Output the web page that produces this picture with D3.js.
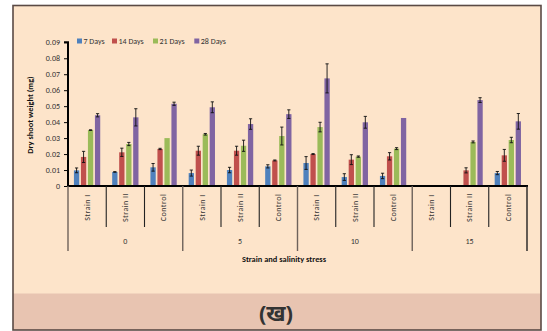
<!DOCTYPE html>
<html><head><meta charset="utf-8">
<script src="https://cdn.jsdelivr.net/npm/d3@7/dist/d3.min.js"></script>
<style>body{margin:0;background:#fff}svg{display:block}text{font-family:Carlito,Lato,"Liberation Sans",sans-serif}</style>
</head><body><svg id="c" width="547" height="331"></svg>
<script>
const groups = ["0","5","10","15"];
const strains = ["Strain I","Strain II","Control"];
const seriesNames = ["7 Days","14 Days","21 Days","28 Days"];
const colors = ["#4F81BD","#C0504D","#9BBB59","#8064A2"];
// values per category (group x strain order)
const d7  = [0.0098,0.0088,0.0117, 0.0081,0.0100,0.0123, 0.0144,0.0056,0.0063, 0,0,0.0081];
const d14 = [0.0182,0.0211,0.0232, 0.0221,0.0221,0.0160, 0.0200,0.0165,0.0186, 0,0.0098,0.0192];
const d21 = [0.0350,0.0263,0.0300, 0.0324,0.0252,0.0313, 0.0369,0.0184,0.0234, 0,0.0276,0.0288];
const d28 = [0.0443,0.0430,0.0515, 0.0493,0.0388,0.0450, 0.0674,0.0399,0.0426, 0,0.0538,0.0405];
const e7  = [0.0015,0.0002,0.0024, 0.0019,0.0017,0.0010, 0.0040,0.0021,0.0017, 0,0,0.0010];
const e14 = [0.0035,0.0026,0.0004, 0.0028,0.0028,0.0003, 0.0003,0.0031,0.0023, 0,0.0016,0.0037];
const e21 = [0.0002,0.0010,0, 0.0005,0.0035,0.0056, 0.0030,0.0004,0.0006, 0,0.0006,0.0017];
const e28 = [0.0010,0.0054,0.0010, 0.0034,0.0033,0.0027, 0.0091,0.0037,0,  0,0.0015,0.0049];
const yTicks = [0,0.01,0.02,0.03,0.04,0.05,0.06,0.07,0.08,0.09];

const vals=[d7,d14,d21,d28], errs=[e7,e14,e21,e28];
const cats=[]; groups.forEach(g=>strains.forEach(s=>cats.push(g+"|"+s)));

const svg=d3.select("#c");
// background and frame
svg.append("rect").attr("x",13).attr("y",5.5).attr("width",528).attr("height",324.5).attr("fill","#FDE4CA");
svg.append("rect").attr("x",13).attr("y",293.5).attr("width",528).attr("height",36.5).attr("fill","#E8C4B1");
svg.append("rect").attr("x",13).attr("y",5.5).attr("width",528).attr("height",324.5).attr("fill","none").attr("stroke","#5a4a45").attr("stroke-width",1.6);
svg.append("text").attr("x",276).attr("y",321).attr("text-anchor","middle").attr("font-size",22).attr("font-weight","bold").attr("fill","#333").style("font-family","'Noto Sans','Noto Sans Devanagari',sans-serif").text("(ख)");

const x0=68,x1=527,yB=186,yT=42.3;
const x=d3.scaleBand().domain(cats).range([x0,x1]).paddingInner(0).paddingOuter(0);
const y=d3.scaleLinear().domain([0,0.09]).range([yB,yT]);
const bw=5.3, step=7;

// bars
const g=svg.append("g");
vals.forEach((arr,si)=>{
  g.selectAll(null).data(cats.map((c,i)=>({c,v:arr[i],e:errs[si][i]})).filter(d=>d.v>0)).join(g2=>{
    const gg=g2.append("g");
    gg.append("rect").attr("x",d=>x(d.c)+x.bandwidth()/2-13.2+si*step).attr("width",bw)
      .attr("y",d=>y(d.v)).attr("height",d=>yB-y(d.v)).attr("fill",colors[si]);
    const ex=d=>x(d.c)+x.bandwidth()/2-13.2+si*step+bw/2;
    gg.filter(d=>d.e>0).append("path").attr("d",d=>{const a=ex(d),t=y(d.v+d.e),b=y(d.v-d.e);return `M${a},${t}V${b}M${a-1.6},${t}H${a+1.6}M${a-1.6},${b}H${a+1.6}`})
      .attr("stroke","#111").attr("stroke-width",0.9).attr("fill","none");
    return gg;
  });
});

// y axis
const ya=svg.append("g").attr("transform",`translate(${x0},0)`).call(d3.axisLeft(y).tickValues(yTicks).tickSize(4).tickFormat(d=>d===0?"0":d3.format(".2f")(d)));
ya.select(".domain").attr("stroke","#000").attr("stroke-width",2).attr("d",`M-4,${yT}H0V${yB}`);
ya.selectAll(".tick line").attr("stroke","#000").attr("stroke-width",1);
ya.selectAll(".tick text").attr("font-size",8).attr("fill","#333").attr("x",-8).style("font-family","Carlito,Lato,sans-serif");

// x axis line
svg.append("line").attr("x1",x0-1).attr("x2",x1+1).attr("y1",yB).attr("y2",yB).attr("stroke","#000").attr("stroke-width",2);
// category separators
cats.forEach((c,i)=>{
  const xx=x(c);
  const grp=i%3===0;
  svg.append("line").attr("x1",xx).attr("x2",xx).attr("y1",yB).attr("y2",grp?251:227).attr("stroke",grp?"#6e625b":"#222").attr("stroke-width",grp?1.4:1.1);
});
svg.append("line").attr("x1",x1).attr("x2",x1).attr("y1",yB).attr("y2",251).attr("stroke","#222").attr("stroke-width",1.4);
// category labels
cats.forEach(c=>{
  const cx=x(c)+x.bandwidth()/2+2.8;
  svg.append("text").attr("transform",`translate(${cx},207.5) rotate(-90)`).attr("text-anchor","middle").attr("font-size",8).attr("letter-spacing",0.5).attr("fill","#333").text(c.split("|")[1]);
});
// group labels
groups.forEach((gname,gi)=>{
  const cx=x(cats[gi*3])+x.bandwidth()*1.5;
  svg.append("text").attr("x",cx).attr("y",244).attr("text-anchor","middle").attr("font-size",8).attr("fill","#333").text(gname);
});
// axis titles
svg.append("text").attr("x",284).attr("y",262).attr("text-anchor","middle").attr("font-size",8.4).attr("font-weight","bold").attr("fill","#111").text("Strain and salinity stress");
svg.append("text").attr("transform","translate(33,115) rotate(-90)").attr("text-anchor","middle").attr("font-size",8.4).attr("font-weight","bold").attr("fill","#111").text("Dry shoot weight (mg)");

// legend
const lx=[77,112,153,194.3];
seriesNames.forEach((n,i)=>{
  svg.append("rect").attr("x",lx[i]).attr("y",38.5).attr("width",5).attr("height",5).attr("fill",colors[i]);
  svg.append("text").attr("x",lx[i]+6.5).attr("y",44).attr("font-size",8).attr("fill","#333").text(n);
});
</script></body></html>
